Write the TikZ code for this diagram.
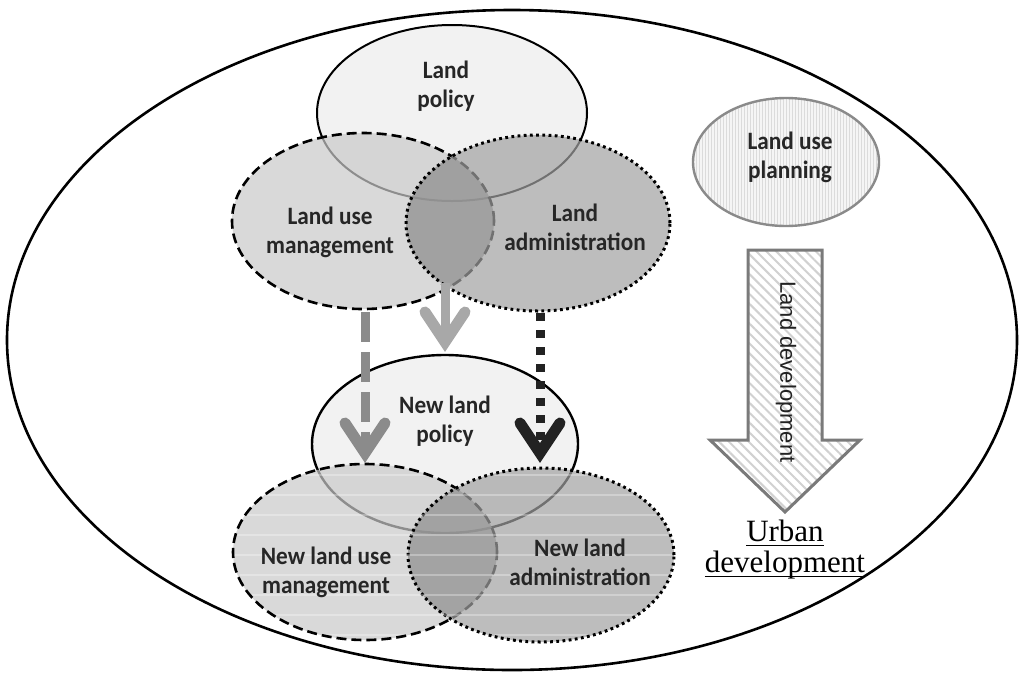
\documentclass[tikz,border=0pt]{standalone}
\usepackage{fontspec}
\usetikzlibrary{shapes.geometric,calc,patterns.meta}
\newfontfamily\labelfont[FakeStretch=0.93]{Carlito}
\newfontfamily\arialfont{Liberation Sans}
\newfontfamily\timesfont{Liberation Serif}
\newcommand\wordline[1]{\setbox0\hbox{#1}\rlap{\rule[-4.5pt]{\wd0}{1.4pt}}\box0}

\definecolor{txt}{HTML}{262626}
\definecolor{arrowmid}{HTML}{8B8B8B}
\definecolor{arrowlight}{HTML}{A8A8A8}
\definecolor{arrowdark}{HTML}{222222}
\definecolor{planedge}{HTML}{8A8A8A}
\definecolor{bigedge}{HTML}{7A7A7A}

\tikzset{
  circ/.style={ellipse, inner sep=0pt, outer sep=0pt},
  policy/.style={circ, draw=black, line width=2pt, fill={rgb,1:red,0.95;green,0.95;blue,0.95}},
  usemgmt/.style={circ, draw=black, line width=2.6pt, dash pattern=on 10pt off 5pt,
    fill={rgb,1:red,0.79;green,0.79;blue,0.79}, fill opacity=0.7},
  admin/.style={circ, draw=black, line width=3pt, dash pattern=on 2.8pt off 3.4pt,
    fill={rgb,1:red,0.63;green,0.63;blue,0.63}, fill opacity=0.7},
  stripeline/.style={draw=white, line width=1.5pt, draw opacity=0.3},
  lbl/.style={font=\labelfont\bfseries\fontsize{25}{29}\selectfont, text=txt, align=center, inner sep=0pt},
  shaftA/.style={line width=9pt, draw=arrowmid, dash pattern=on 30pt off 10pt},
  shaftB/.style={line width=9pt, draw=arrowlight},
  shaftC/.style={line width=9pt, draw=arrowdark, dash pattern=on 8pt off 9pt},
  chev/.style={line width=11pt, line join=miter, line cap=round},
}

\begin{document}
\begin{tikzpicture}[x=1pt,y=-1pt]
\useasboundingbox (0,0) rectangle (1019,673);

% frame of the whole field
\node[circ, draw=black, line width=2.6pt, minimum width=1010pt, minimum height=660pt] (field) at (512,340) {};

% present arrangement
\node[policy, minimum width=270pt, minimum height=176pt] (lp) at (452,113) {};
\node[usemgmt, minimum width=262pt, minimum height=176pt] (lum) at (363,221) {};
\begin{scope}
  \clip (363,221) ellipse [x radius=131, y radius=88];
  \fill[black, fill opacity=0.25] (538,223) ellipse [x radius=132, y radius=88];
\end{scope}
\node[admin, minimum width=264pt, minimum height=176pt] (la) at (538,223) {};

\node[lbl] (tlp) at (446,86) {Land\\policy};
\node[lbl] (tlum) at (330,232) {Land use\\management};
\node[lbl] (tla) at (575,227) {Land\\administration};

% new arrangement
\node[policy, line width=2.4pt, minimum width=266pt, minimum height=178pt] (nlp) at (445,444) {};
\node[usemgmt, minimum width=264pt, minimum height=176pt] (nlum) at (365,552) {};
\begin{scope}
  \clip (365,552) ellipse [x radius=132, y radius=88];
  \fill[black, fill opacity=0.22] (541,555) ellipse [x radius=133, y radius=87];
\end{scope}
\node[admin, minimum width=266pt, minimum height=174pt] (nla) at (541,555) {};
% faint horizontal banding inside the new ellipses
\begin{scope}
  \clip (365,552) ellipse [x radius=130, y radius=86] (541,555) ellipse [x radius=131, y radius=85];
  \foreach \yy in {475,495,...,635} \draw[stripeline] (230,\yy) -- (680,\yy);
\end{scope}

\node[lbl] (tnlp) at (445,421) {New land\\policy};
\node[lbl] (tnlum) at (326,572) {New land use\\management};
\node[lbl] (tnla) at (580,562) {New land\\administration};

% transitions between the two arrangements
\coordinate (a1s) at (365,312);
\coordinate (a1e) at (365,453);
\coordinate (a2s) at (445,283);
\coordinate (a2e) at (445,342);
\coordinate (a3s) at (540,313);
\coordinate (a3e) at (540,453);

\draw[shaftA] (a1s) -- (a1e);
\draw[chev, draw=arrowmid] ($(a1e)+(-20,-30)$) -- (a1e) -- ($(a1e)+(20,-30)$);
\draw[shaftB] (a2s) -- (a2e);
\draw[chev, draw=arrowlight] ($(a2e)+(-20,-30)$) -- (a2e) -- ($(a2e)+(20,-30)$);
\draw[shaftC] (a3s) -- (a3e);
\draw[chev, draw=arrowdark] ($(a3e)+(-20,-30)$) -- (a3e) -- ($(a3e)+(20,-30)$);

% planning and development
\node[circ, draw=planedge, line width=2.4pt, minimum width=186pt, minimum height=128pt,
  preaction={fill={rgb,1:red,0.96;green,0.96;blue,0.96}},
  pattern={Lines[angle=90,distance=3pt,line width=0.7pt]}, pattern color={rgb,1:red,0.86;green,0.86;blue,0.86}] (lup) at (786,162) {};
\node[lbl] (tlup) at (790,157) {Land use\\planning};

\draw[draw=bigedge, line width=3pt, line join=miter, preaction={fill=white},
  pattern={Lines[angle=-45,distance=7pt,line width=2pt]}, pattern color={rgb,1:red,0.82;green,0.82;blue,0.82}]
  (748,250) -- (822,250) -- (822,440) -- (860,440) -- (785,512) -- (710,440) -- (748,440) -- cycle;
\node[font=\arialfont\fontsize{22}{26}\selectfont, text=arrowdark, rotate=-90, inner sep=0pt] (tld) at (786,372) {Land development};

\node[font=\timesfont\fontsize{31}{31}\selectfont, align=center, inner sep=0pt, anchor=north] (tud) at (785,520)
  {\wordline{Urban}\\\wordline{development}};
\end{tikzpicture}
\end{document}
